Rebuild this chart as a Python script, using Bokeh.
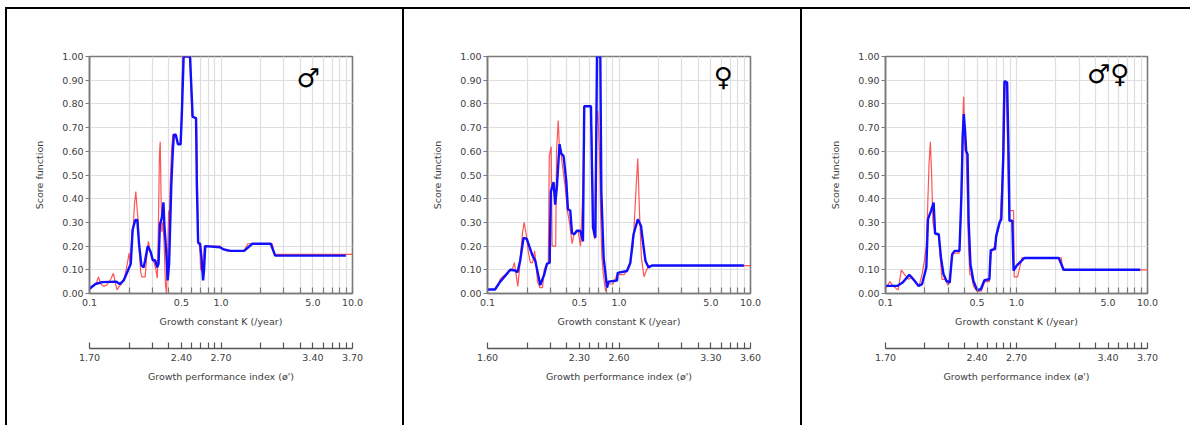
from bokeh.plotting import figure
from bokeh.models import (LogAxis, LinearAxis, FixedTicker, CustomJSTickFormatter,
                          NumeralTickFormatter, Label, Range1d, Grid, Spacer)
from bokeh.layouts import row, column
from bokeh.embed import file_html
from bokeh.resources import INLINE

# ---------------- data ----------------
K_TICKS = [0.1, 0.2, 0.3, 0.4, 0.5, 0.6, 0.7, 0.8, 0.9, 1.0,
           2.0, 3.0, 4.0, 5.0, 6.0, 7.0, 8.0, 9.0, 10.0]
K_LABEL_AT = [0.1, 0.5, 1.0, 5.0, 10.0]
K_LABELS = ["0.1", "0.5", "1.0", "5.0", "10.0"]
PHI_LABELS_M = ["1.70", "2.40", "2.70", "3.40", "3.70"]
PHI_LABELS_F = ["1.60", "2.30", "2.60", "3.30", "3.60"]
PHI_LABELS_B = ["1.70", "2.40", "2.70", "3.40", "3.70"]
Y_TICKS = [0.0, 0.1, 0.2, 0.3, 0.4, 0.5, 0.6, 0.7, 0.8, 0.9, 1.0]

# male
k_m_blue = [0.100, 0.111, 0.125, 0.160, 0.170, 0.182, 0.197, 0.206, 0.213, 0.223, 0.231, 0.238,
            0.248, 0.258, 0.265, 0.277, 0.292, 0.303, 0.316, 0.327, 0.335, 0.343, 0.355, 0.365,
            0.371, 0.384, 0.393, 0.403, 0.419, 0.430, 0.438, 0.453, 0.471, 0.493, 0.503, 0.520,
            0.581, 0.609, 0.646, 0.655, 0.670, 0.693, 0.711, 0.731, 0.743, 0.759, 0.985, 1.05,
            1.18, 1.50, 1.73, 2.39, 2.58, 8.9]
s_m_blue = [0.02, 0.04, 0.048, 0.05, 0.04, 0.055, 0.10, 0.125, 0.27, 0.31, 0.31, 0.21,
            0.12, 0.11, 0.14, 0.20, 0.175, 0.14, 0.14, 0.11, 0.125, 0.29, 0.32, 0.385,
            0.29, 0.17, 0.055, 0.125, 0.46, 0.60, 0.67, 0.67, 0.63, 0.63, 0.745, 1.0,
            1.0, 0.745, 0.74, 0.46, 0.215, 0.21, 0.15, 0.055, 0.10, 0.20, 0.195, 0.186,
            0.18, 0.18, 0.21, 0.21, 0.16, 0.16]
k_m_red = [0.100, 0.105, 0.112, 0.117, 0.122, 0.128, 0.135, 0.145, 0.152, 0.158, 0.162, 0.168,
           0.175, 0.185, 0.193, 0.200, 0.205, 0.210, 0.215, 0.220, 0.225, 0.230, 0.235, 0.240,
           0.245, 0.250, 0.265, 0.272, 0.280, 0.285, 0.290, 0.300, 0.310, 0.320, 0.328, 0.335,
           0.340, 0.345, 0.350, 0.355, 0.362, 0.370, 0.378, 0.385, 0.390, 0.400, 0.405, 0.410,
           0.420, 0.430, 0.440, 0.455, 0.470, 0.490, 0.500, 0.510, 0.515, 0.580, 0.590, 0.600,
           0.650, 0.660, 0.670, 0.690, 0.700, 0.720, 0.730, 0.745, 0.980, 1.00, 1.10, 1.50,
           1.60, 2.45, 2.55, 10.0]
s_m_red = [0.015, 0.03, 0.04, 0.07, 0.04, 0.03, 0.035, 0.06, 0.085, 0.04, 0.015, 0.03,
           0.04, 0.07, 0.12, 0.17, 0.12, 0.26, 0.28, 0.38, 0.43, 0.36, 0.30, 0.17,
           0.09, 0.07, 0.07, 0.15, 0.22, 0.20, 0.18, 0.15, 0.13, 0.10, 0.065, 0.32,
           0.58, 0.64, 0.42, 0.26, 0.30, 0.20, 0.04, 0.0, 0.10, 0.35, 0.30, 0.45,
           0.60, 0.67, 0.67, 0.66, 0.63, 0.63, 0.75, 0.95, 1.0, 1.0, 0.88, 0.75,
           0.74, 0.55, 0.21, 0.20, 0.10, 0.10, 0.08, 0.20, 0.20, 0.19, 0.18, 0.18,
           0.21, 0.21, 0.165, 0.165]

# female
k_f_blue = [0.100, 0.114, 0.125, 0.149, 0.162, 0.169, 0.177, 0.188, 0.199, 0.218, 0.231, 0.252,
            0.270, 0.283, 0.297, 0.303, 0.318, 0.327, 0.337, 0.353, 0.364, 0.379, 0.397, 0.409,
            0.426, 0.439, 0.457, 0.478, 0.508, 0.532, 0.544, 0.612, 0.634, 0.661, 0.680, 0.721,
            0.734, 0.764, 0.811, 0.834, 0.966, 0.977, 1.15, 1.22, 1.29, 1.39, 1.47, 1.54,
            1.59, 1.68, 1.78, 8.9]
s_f_blue = [0.017, 0.017, 0.05, 0.10, 0.097, 0.09, 0.137, 0.235, 0.23, 0.165, 0.137, 0.035,
            0.08, 0.125, 0.13, 0.43, 0.47, 0.375, 0.45, 0.63, 0.59, 0.58, 0.475, 0.355,
            0.35, 0.255, 0.25, 0.265, 0.265, 0.22, 0.79, 0.79, 0.28, 0.235, 1.0, 1.0,
            0.43, 0.15, 0.025, 0.05, 0.055, 0.087, 0.095, 0.13, 0.25, 0.313, 0.285, 0.193,
            0.137, 0.11, 0.118, 0.118]
k_f_red = [0.100, 0.113, 0.118, 0.125, 0.130, 0.140, 0.150, 0.155, 0.160, 0.165, 0.170, 0.175,
           0.180, 0.185, 0.190, 0.197, 0.205, 0.212, 0.220, 0.228, 0.235, 0.240, 0.250, 0.262,
           0.270, 0.280, 0.290, 0.295, 0.305, 0.310, 0.330, 0.335, 0.345, 0.352, 0.360, 0.375,
           0.390, 0.405, 0.420, 0.440, 0.455, 0.470, 0.490, 0.510, 0.530, 0.545, 0.610, 0.625,
           0.640, 0.655, 0.670, 0.690, 0.710, 0.725, 0.740, 0.760, 0.790, 0.820, 0.900, 0.970,
           1.10, 1.20, 1.28, 1.35, 1.39, 1.43, 1.48, 1.55, 1.62, 1.70, 10.0]
s_f_red = [0.017, 0.017, 0.03, 0.06, 0.07, 0.085, 0.10, 0.105, 0.13, 0.08, 0.03, 0.10,
           0.19, 0.26, 0.30, 0.25, 0.17, 0.13, 0.13, 0.18, 0.12, 0.05, 0.025, 0.025,
           0.10, 0.12, 0.13, 0.58, 0.62, 0.20, 0.20, 0.60, 0.73, 0.62, 0.60, 0.52,
           0.45, 0.35, 0.30, 0.21, 0.25, 0.26, 0.26, 0.20, 0.42, 0.79, 0.79, 0.60,
           0.25, 0.23, 0.70, 0.77, 0.60, 0.33, 0.16, 0.08, 0.01, 0.04, 0.04, 0.08,
           0.08, 0.12, 0.20, 0.45, 0.57, 0.35, 0.15, 0.07, 0.10, 0.118, 0.118]

# both sexes
k_b_blue = [0.100, 0.123, 0.135, 0.152, 0.167, 0.179, 0.190, 0.205, 0.211, 0.223, 0.233, 0.239,
            0.255, 0.265, 0.277, 0.292, 0.309, 0.323, 0.337, 0.367, 0.380, 0.389, 0.396, 0.405,
            0.413, 0.423, 0.431, 0.445, 0.469, 0.500, 0.534, 0.569, 0.621, 0.636, 0.685, 0.700,
            0.743, 0.766, 0.795, 0.809, 0.848, 0.869, 0.883, 0.929, 0.950, 1.00, 1.15, 2.10,
            2.29, 8.8]
s_b_blue = [0.032, 0.032, 0.046, 0.079, 0.053, 0.032, 0.039, 0.11, 0.314, 0.35, 0.384, 0.253,
            0.25, 0.152, 0.082, 0.053, 0.046, 0.166, 0.18, 0.18, 0.42, 0.67, 0.757, 0.686,
            0.60, 0.588, 0.307, 0.124, 0.053, 0.014, 0.018, 0.056, 0.06, 0.183, 0.187, 0.243,
            0.30, 0.314, 0.60, 0.897, 0.89, 0.60, 0.307, 0.307, 0.096, 0.117, 0.15, 0.15,
            0.10, 0.10]
k_b_red = [0.100, 0.108, 0.115, 0.125, 0.132, 0.140, 0.150, 0.160, 0.170, 0.180, 0.190, 0.197,
           0.205, 0.210, 0.215, 0.220, 0.225, 0.230, 0.240, 0.255, 0.262, 0.270, 0.285, 0.300,
           0.310, 0.320, 0.335, 0.365, 0.375, 0.385, 0.395, 0.405, 0.410, 0.420, 0.430, 0.440,
           0.450, 0.470, 0.500, 0.540, 0.570, 0.620, 0.640, 0.680, 0.710, 0.750, 0.780, 0.800,
           0.830, 0.850, 0.870, 0.880, 0.950, 0.960, 1.02, 1.10, 2.20, 2.25, 10.0]
s_b_red = [0.02, 0.05, 0.03, 0.015, 0.10, 0.08, 0.06, 0.07, 0.05, 0.03, 0.08, 0.13,
           0.20, 0.37, 0.55, 0.64, 0.50, 0.30, 0.25, 0.245, 0.15, 0.06, 0.06, 0.035,
           0.06, 0.16, 0.17, 0.17, 0.30, 0.65, 0.83, 0.60, 0.65, 0.45, 0.20, 0.08,
           0.08, 0.03, 0.01, 0.01, 0.05, 0.05, 0.17, 0.20, 0.25, 0.30, 0.50, 0.88,
           0.89, 0.70, 0.42, 0.35, 0.35, 0.07, 0.07, 0.15, 0.15, 0.10, 0.10]

SYMBOLS = ["\u2642", "\u2640", "\u2642\u2640"]
SYMBOL_POS = [(4.6, 0.91), (6.2, 0.915), (5.0, 0.925)]

# ---------------- styling ----------------
FONT = "DejaVu Sans"
TXT = "#404040"
FS = "9.5px"
FRAME = "#7a7a7a"
GRIDC = "#dedede"
H = 416
MIN_TOP = 47
MIN_BOTTOM = 132

JS = """
for (let i = 0; i < vals.length; i++) {
  if (Math.abs(Math.log10(tick) - Math.log10(vals[i])) < 1e-6) { return labs[i]; }
}
return "";
"""


def style_axis(ax):
    ax.major_label_text_font = FONT
    ax.major_label_text_font_size = FS
    ax.major_label_text_color = TXT
    ax.axis_label_text_font = FONT
    ax.axis_label_text_font_size = FS
    ax.axis_label_text_font_style = "normal"
    ax.axis_label_text_color = TXT
    ax.minor_tick_line_color = None
    ax.major_tick_line_color = FRAME
    ax.major_tick_line_width = 1.2
    ax.axis_line_color = FRAME
    ax.axis_line_width = 1.5


def make_panel(k_red, s_red, k_blue, s_blue, phi_labels, sym, sym_pos, width, mleft, mright):
    p = figure(width=width, height=H, x_axis_type="log",
               x_range=Range1d(0.1, 10.0), y_range=Range1d(0.0, 1.0),
               x_axis_location=None, y_axis_location=None,
               output_backend="svg", toolbar_location=None,
               min_border_left=mleft, min_border_right=mright,
               min_border_top=MIN_TOP, min_border_bottom=MIN_BOTTOM,
               outline_line_color=FRAME, outline_line_width=1.6,
               background_fill_color="white", border_fill_color="white")

    p.add_layout(Grid(dimension=0, ticker=FixedTicker(ticks=K_TICKS),
                      grid_line_color=GRIDC, grid_line_width=1.2))
    p.add_layout(Grid(dimension=1, ticker=FixedTicker(ticks=Y_TICKS),
                      grid_line_color=GRIDC, grid_line_width=1.2))

    yax = LinearAxis(ticker=FixedTicker(ticks=Y_TICKS),
                     formatter=NumeralTickFormatter(format="0.00"),
                     axis_label="Score function")
    style_axis(yax)
    yax.major_tick_in = 0
    yax.major_tick_out = 4
    yax.major_label_standoff = 2
    yax.axis_label_standoff = 14
    p.add_layout(yax, "left")

    kax = LogAxis(ticker=FixedTicker(ticks=K_TICKS, minor_ticks=[]),
                  formatter=CustomJSTickFormatter(args=dict(vals=K_LABEL_AT, labs=K_LABELS), code=JS),
                  axis_label="Growth constant K (/year)")
    style_axis(kax)
    kax.major_tick_in = 6
    kax.major_tick_out = 0
    kax.major_label_standoff = 5
    kax.axis_label_standoff = 7
    p.add_layout(kax, "below")

    # axis without visible marks, used only as vertical gap between the two scales
    gap = LogAxis(ticker=FixedTicker(ticks=[0.1], minor_ticks=[]))
    gap.axis_line_color = None
    gap.major_tick_line_color = "white"
    gap.major_tick_line_width = 0.5
    gap.minor_tick_line_color = None
    gap.major_label_text_color = None
    gap.major_tick_in = 0
    gap.major_tick_out = 19
    gap.major_label_standoff = 0
    p.add_layout(gap, "below")

    pax = LogAxis(ticker=FixedTicker(ticks=K_TICKS, minor_ticks=[]),
                  formatter=CustomJSTickFormatter(args=dict(vals=K_LABEL_AT, labs=phi_labels), code=JS),
                  axis_label="Growth performance index (\u00f8')")
    style_axis(pax)
    pax.axis_line_color = "#555555"
    pax.major_tick_line_color = "#555555"
    pax.major_tick_in = 6
    pax.major_tick_out = 0
    pax.major_label_standoff = 5
    pax.axis_label_standoff = 7
    p.add_layout(pax, "below")

    p.line(k_red, s_red, line_color="#ff2a2a", line_alpha=0.8, line_width=1.2)
    p.line(k_blue, s_blue, line_color="#1010ff", line_width=2.4)

    p.add_layout(Label(x=sym_pos[0], y=sym_pos[1], text=sym, text_font=FONT,
                       text_font_size="26px", text_color="black",
                       text_align="center", text_baseline="middle"))
    return p


p1 = make_panel(k_m_red, s_m_red, k_m_blue, s_m_blue, PHI_LABELS_M, SYMBOLS[0], SYMBOL_POS[0], 395, 82, 50)
p2 = make_panel(k_f_red, s_f_red, k_f_blue, s_f_blue, PHI_LABELS_F, SYMBOLS[1], SYMBOL_POS[1], 396, 83, 50)
p3 = make_panel(k_b_red, s_b_red, k_b_blue, s_b_blue, PHI_LABELS_B, SYMBOLS[2], SYMBOL_POS[2], 388, 83, 43)


def vline():
    return Spacer(width=2, height=H, styles={"background-color": "black"})


top_line = Spacer(width=2 + 395 + 2 + 396 + 2 + 388, height=2, styles={"background-color": "black"})
layout = column(top_line, row(vline(), p1, vline(), p2, vline(), p3),
                styles={"margin-left": "5px", "margin-top": "7px"})

open("out.html", "w").write(file_html(layout, INLINE))
